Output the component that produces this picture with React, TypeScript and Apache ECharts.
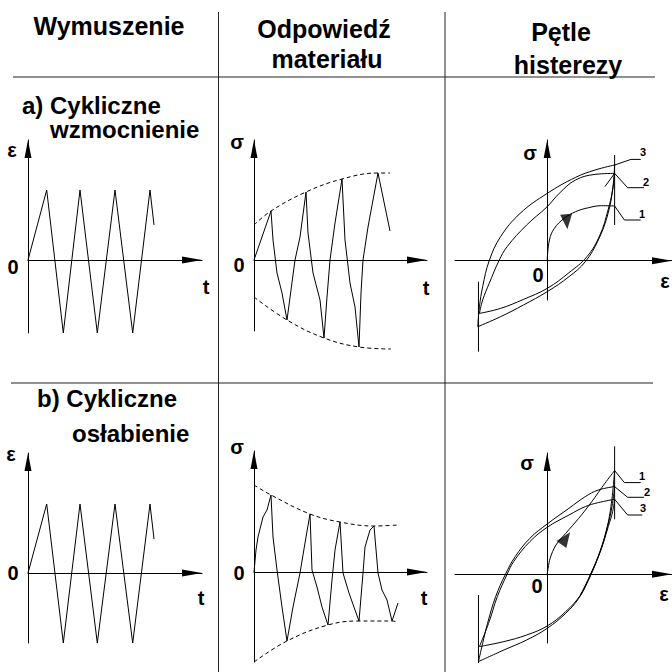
import React, { useEffect, useRef } from "react";
import * as echarts from "echarts";

type Pt = [number, number];

// ---- Excitation: strain ε(t), identical triangular programme in both rows ----
const strainInputA: Pt[] = [[0, 0], [1.87, 7.0], [3.53, -7.3], [5.2, 7.0], [6.93, -7.3], [8.7, 7.0], [10.47, -7.3], [12.2, 7.0], [12.6, 3.5]];
const strainInputB: Pt[] = [[0, 0], [1.87, 6.9], [3.53, -7.0], [5.2, 6.9], [6.93, -7.0], [8.7, 6.9], [10.47, -7.0], [12.2, 6.9], [12.6, 3.4]];

// ---- Material response: stress σ(t) ----
const stressResponseA: Pt[] = [
  [0, 0], [1.7, 4.9], [1.9, 2.0], [2.3, -1.3], [2.8, -3.3], [3.3, -6.0], [4.1, 0], [4.6, 2.3], [5.2, 6.8],
  [5.4, 2.7], [5.9, -1.3], [6.6, -4.0], [7.0, -7.8], [7.3, -3.7], [7.6, 0], [8.1, 3.7], [8.8, 8.1],
  [9.1, 2.0], [9.6, -2.3], [10.1, -4.7], [10.5, -8.7], [10.7, -3.3], [10.9, 0], [11.4, 3.3], [11.9, 6.0],
  [12.4, 8.7], [13.6, 2.9],
];
const envelopeUpperA: Pt[] = [[0, 3.5], [1.7, 4.9], [5.2, 6.8], [8.8, 8.1], [12.4, 8.7], [13.6, 8.7]];
const envelopeLowerA: Pt[] = [[0, -3.7], [3.3, -6.0], [7.0, -7.8], [10.5, -8.7], [13.7, -8.9]];

const stressResponseB: Pt[] = [
  [0, 0], [0.2, 2.2], [0.4, 3.5], [0.9, 5.5], [1.3, 6.2], [1.7, 7.7], [1.9, 3.5], [2.3, 0.2], [2.8, -3.5],
  [3.3, -6.9], [3.9, -3.5], [4.6, -0.1], [5.1, 2.9], [5.6, 5.8], [5.8, 0.2], [6.3, -1.5], [6.8, -3.5],
  [7.4, -5.3], [7.8, -0.8], [8.1, 2.2], [8.6, 5.0], [8.9, -0.1], [9.5, -2.1], [10.1, -3.8], [10.5, -4.9],
  [10.9, -0.1], [11.1, 2.5], [11.6, 4.2], [12.0, 4.6], [12.4, -0.1], [12.8, -1.8], [13.3, -2.8],
  [13.8, -4.9], [14.4, -3.1],
];
const envelopeUpperB: Pt[] = [[0, 8.7], [1.7, 7.7], [5.6, 5.8], [8.6, 5.0], [12.0, 4.6], [14.4, 4.7]];
const envelopeLowerB: Pt[] = [[0, -9.0], [3.3, -6.9], [7.4, -5.3], [10.5, -4.9], [13.8, -4.9], [14.4, -5.0]];

// ---- Hysteresis loops σ(ε), hardening ----
const loadingA: Pt[] = [[0, 0], [0.23, 2.07], [0.73, 3.23], [1.73, 4.23], [2.9, 4.9], [4.23, 5.3], [5.57, 5.5], [6.9, 5.47]];
const upperOuterA: Pt[] = [[6.9, 9.57], [4.9, 9.07], [2.9, 8.33], [0, 6.73], [-2.77, 4.73], [-4.77, 2.4], [-5.93, 0], [-6.6, -2.6], [-6.93, -4.6], [-7.1, -6.6]];
const upperInnerA: Pt[] = [[6.9, 8.73], [4.9, 8.63], [2.9, 8.07], [1.23, 6.73], [0, 5.4], [-2.1, 3.57], [-4.1, 1.4], [-4.93, 0], [-5.93, -2.27], [-6.6, -3.93], [-6.93, -5.27]];
const lowerOuterA: Pt[] = [[-7.1, -6.6], [-4.77, -5.6], [-2.43, -4.43], [0, -3.1], [2.23, -1.6], [3.9, -0.1], [5.23, 2.07], [6.23, 4.73], [6.73, 7.4], [6.9, 9.57]];
const lowerInnerA: Pt[] = [[-6.93, -5.27], [-4.77, -4.77], [-2.43, -3.87], [0, -2.77], [2.23, -1.2], [4.07, 0.4], [5.4, 2.57], [6.23, 5.07], [6.7, 7.07], [6.9, 8.73]];
const reversalTailA: Pt[] = [[6.9, 8.73], [5.9, 7.4]];
const leaderA3: Pt[] = [[6.9, 9.57], [8.57, 10.13], [9.57, 10.13]];
const leaderA2: Pt[] = [[6.9, 8.73], [8.23, 7.3], [9.9, 7.3]];
const leaderA1: Pt[] = [[6.9, 5.47], [7.9, 4.07], [9.57, 4.07]];
const strainLimitRightA: Pt[] = [[6.9, 10.57], [6.9, 3.57]];
const strainLimitLeftA: Pt[] = [[-7.03, -2.1], [-7.03, -9.1]];
const loadingArrowA: Pt[] = [[2.0, 3.9]];

// ---- Hysteresis loops σ(ε), softening ----
const loadingB: Pt[] = [[0, 0], [0.3, 1.6], [0.9, 2.93], [1.9, 4.1], [3.23, 5.6], [4.57, 7.27], [5.9, 9.1], [6.9, 10.37]];
const upper2B: Pt[] = [[6.9, 8.77], [5.23, 8.43], [3.9, 7.77], [2.23, 6.6], [0, 5.03], [-1.77, 3.6], [-3.27, 1.77], [-4.27, 0], [-5.27, -2.23], [-6.1, -4.9], [-6.6, -6.9], [-7.03, -8.73]];
const upper3B: Pt[] = [[6.9, 7.5], [5.23, 7.17], [3.9, 6.77], [2.23, 5.93], [0, 4.7], [-1.77, 3.27], [-3.43, 1.27], [-4.1, 0], [-5.1, -2.23], [-5.93, -4.73], [-6.93, -7.23]];
const lower1B: Pt[] = [[-7.03, -8.73], [-4.43, -7.57], [-2.1, -6.57], [0, -5.4], [1.9, -3.9], [3.23, -2.4], [4.23, -0.57], [5.23, 1.77], [6.07, 4.43], [6.57, 7.1], [6.9, 10.37]];
const lower2B: Pt[] = [[-6.93, -7.23], [-4.43, -6.73], [-2.1, -6.07], [0, -5.17], [1.9, -3.73], [3.4, -2.07], [4.4, -0.07], [5.4, 2.27], [6.17, 4.77], [6.63, 6.77], [6.9, 8.77]];
const lower3B: Pt[] = [[3.4, -2.07], [4.5, 0.1], [5.5, 2.43], [6.25, 4.77], [6.7, 6.27], [6.9, 7.5]];
const leaderB1: Pt[] = [[6.9, 10.37], [7.9, 9.17], [9.57, 9.17]];
const leaderB2: Pt[] = [[6.9, 8.77], [8.23, 7.7], [9.9, 7.7]];
const leaderB3: Pt[] = [[6.9, 7.5], [8.23, 5.93], [9.73, 5.93]];
const strainLimitRightB: Pt[] = [[6.9, 12.8], [6.9, 5.5]];
const strainLimitLeftB: Pt[] = [[-7.03, -2.07], [-7.03, -8.87]];
const loadingArrowB: Pt[] = [[1.9, 3.6]];

// Panel frames: [left, top, width, height] and axis ranges [xMin, xMax, yMin, yMax]
const panelBoxes = [
  [28, 140, 174, 193], [254, 140, 173, 191], [455, 140, 222, 160],
  [28, 453, 174, 190], [254, 451, 173, 211], [455, 453, 222, 190],
];
const panelRanges = [
  [0, 17.4, -7.3, 12.0], [0, 17.3, -7.1, 12.0], [-9.43, 12.77, -3.93, 12.07],
  [0, 17.4, -7.0, 12.0], [0, 17.3, -9.0, 12.1], [-9.43, 12.77, -6.87, 12.13],
];

const FONT = '"Liberation Sans", Arial, Helvetica, sans-serif';
const INK = "#000";

function text(t: string, x: number, y: number, size: number, align: string = "center") {
  return {
    type: "text",
    x,
    y,
    silent: true,
    style: {
      text: t,
      font: `bold ${size}px ${FONT}`,
      fill: INK,
      align,
      verticalAlign: "middle",
      textAlign: align,
      textVerticalAlign: "middle",
    },
  };
}

function rule(x1: number, y1: number, x2: number, y2: number) {
  return { type: "line", silent: true, shape: { x1, y1, x2, y2 }, style: { stroke: "#222", lineWidth: 1 } };
}

function curve(panel: number, data: Pt[], extra: any = {}) {
  return {
    type: "line",
    xAxisIndex: panel,
    yAxisIndex: panel,
    data,
    symbol: "none",
    clip: false,
    silent: true,
    lineStyle: { color: INK, width: 1 },
    ...extra,
  };
}

function dashed(panel: number, data: Pt[]) {
  return curve(panel, data, { smooth: 0.4, lineStyle: { color: INK, width: 1, type: [4, 3] } });
}

function arrowHead(panel: number, data: Pt[], rotate: number) {
  return {
    type: "scatter",
    xAxisIndex: panel,
    yAxisIndex: panel,
    data,
    symbol: "triangle",
    symbolSize: [12, 15],
    symbolRotate: rotate,
    silent: true,
    itemStyle: { color: INK },
  };
}

export default function App() {
  const ref = useRef<HTMLDivElement>(null);

  useEffect(() => {
    if (!ref.current) return;
    const chart = echarts.init(ref.current, null, { renderer: "svg" });

    const axisLine = (len: number) => ({
      show: true,
      onZero: true,
      symbol: ["none", "triangle"],
      symbolSize: [7, len],
      symbolOffset: [0, -len / 2],
      lineStyle: { color: INK, width: 1 },
    });
    const bare = { axisTick: { show: false }, axisLabel: { show: false }, splitLine: { show: false } };

    const grid = panelBoxes.map(([left, top, width, height]) => ({ left, top, width, height }));
    const xAxis = panelRanges.map(([min, max], i) => ({
      type: "value", gridIndex: i, min, max, axisLine: axisLine(20), ...bare,
    }));
    const yAxis = panelRanges.map(([, , min, max], i) => ({
      type: "value", gridIndex: i, min, max, axisLine: axisLine(18), ...bare,
    }));

    const series: any[] = [
      curve(0, strainInputA),
      curve(3, strainInputB),

      curve(1, stressResponseA),
      dashed(1, envelopeUpperA),
      dashed(1, envelopeLowerA),
      curve(4, stressResponseB),
      dashed(4, envelopeUpperB),
      dashed(4, envelopeLowerB),

      curve(2, loadingA, { smooth: 0.4 }),
      curve(2, upperOuterA, { smooth: 0.4 }),
      curve(2, upperInnerA, { smooth: 0.4 }),
      curve(2, lowerOuterA, { smooth: 0.4 }),
      curve(2, lowerInnerA, { smooth: 0.4 }),
      curve(2, reversalTailA),
      curve(2, leaderA3),
      curve(2, leaderA2),
      curve(2, leaderA1),
      curve(2, strainLimitRightA),
      curve(2, strainLimitLeftA),
      arrowHead(2, loadingArrowA, 185),

      curve(5, loadingB, { smooth: 0.3 }),
      curve(5, upper2B, { smooth: 0.4 }),
      curve(5, upper3B, { smooth: 0.4 }),
      curve(5, lower1B, { smooth: 0.4 }),
      curve(5, lower2B, { smooth: 0.4 }),
      curve(5, lower3B, { smooth: 0.4 }),
      curve(5, leaderB1),
      curve(5, leaderB2),
      curve(5, leaderB3),
      curve(5, strainLimitRightB),
      curve(5, strainLimitLeftB),
      arrowHead(5, loadingArrowB, -35),
    ];

    const graphic = [
      // table rules
      rule(218.5, 12, 218.5, 672),
      rule(445, 12, 445, 672),
      rule(13, 77, 655, 77),
      rule(11, 383, 653, 383),
      // column headings
      text("Wymuszenie", 109, 26, 25),
      text("Odpowiedź", 324, 29, 25),
      text("materiału", 327, 59, 25),
      text("Pętle", 561, 32, 25),
      text("histerezy", 568, 65, 25),
      // row titles
      text("a) Cykliczne", 22, 105, 24, "left"),
      text("wzmocnienie", 50, 129, 24, "left"),
      text("b) Cykliczne", 37, 398, 24, "left"),
      text("osłabienie", 72, 433, 24, "left"),
      // axis captions, row a
      text("ε", 12, 150, 20),
      text("0", 13, 267, 20),
      text("t", 206, 287, 20),
      text("σ", 237, 142, 20),
      text("0", 239, 265, 20),
      text("t", 426, 288, 20),
      text("σ", 530, 153, 20),
      text("0", 538, 275, 20),
      text("ε", 665, 281, 20),
      text("3", 643, 152, 11),
      text("2", 646, 182, 11),
      text("1", 642, 214, 11),
      // axis captions, row b
      text("ε", 11, 454, 20),
      text("0", 13, 573, 20),
      text("t", 201, 598, 20),
      text("σ", 237, 447, 20),
      text("0", 239, 573, 20),
      text("t", 424, 598, 20),
      text("σ", 527, 463, 20),
      text("0", 537, 586, 20),
      text("ε", 664, 594, 20),
      text("1", 642, 476, 11),
      text("2", 647, 492, 11),
      text("3", 643, 508, 11),
    ];

    chart.setOption({
      animation: false,
      backgroundColor: "#fff",
      grid,
      xAxis,
      yAxis,
      series,
      graphic,
    });

    return () => chart.dispose();
  }, []);

  return (
    <div
      ref={ref}
      style={{ position: "absolute", left: 0, top: 0, width: 672, height: 672, background: "#fff" }}
    />
  );
}
